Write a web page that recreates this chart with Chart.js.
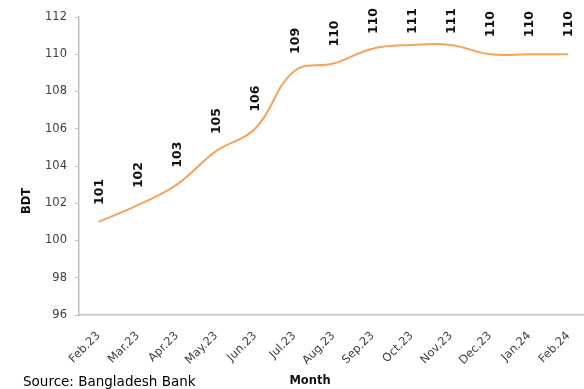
<!DOCTYPE html>
<html>
<head>
<meta charset="utf-8">
<script src="https://cdn.jsdelivr.net/npm/chart.js@4.4.1/dist/chart.umd.min.js"></script>
<style>
  html, body { margin: 0; padding: 0; background: #ffffff; overflow: hidden; }
  #wrap { position: relative; width: 584px; height: 389px; overflow: hidden; }
</style>
</head>
<body>
<div id="wrap"><canvas id="c" width="592" height="389"></canvas></div>
<script>
const months = ["Feb.23","Mar.23","Apr.23","May.23","Jun.23","Jul.23","Aug.23","Sep.23","Oct.23","Nov.23","Dec.23","Jan.24","Feb.24"];
const rateValues = [101.0, 101.9, 103.0, 104.8, 106.0, 109.1, 109.5, 110.3, 110.5, 110.5, 110.0, 110.0, 110.0];
const rateLabels = ["101","102","103","105","106","109","110","110","111","111","110","110","110"];
const yTicks = [96, 98, 100, 102, 104, 106, 108, 110, 112];

const FONT = "'DejaVu Sans', Verdana, sans-serif";

const extraText = {
  id: 'extraText',
  afterDatasetsDraw(chart) {
    const ctx = chart.ctx;
    const meta = chart.getDatasetMeta(0);
    const topLimit = chart.chartArea.top - 9;
    ctx.save();
    ctx.fillStyle = '#111111';
    ctx.font = 'bold 12.5px ' + FONT;
    meta.data.forEach((pt, i) => {
      const w = ctx.measureText(rateLabels[i]).width;
      const start = Math.max(pt.y - 17, topLimit + w);
      ctx.save();
      ctx.translate(pt.x + 1, start);
      ctx.rotate(-Math.PI / 2);
      ctx.textAlign = 'left';
      ctx.textBaseline = 'middle';
      ctx.fillText(rateLabels[i], 0, 0);
      ctx.restore();
    });
    ctx.font = 'bold 11.5px ' + FONT;
    ctx.textAlign = 'center';
    ctx.textBaseline = 'middle';
    ctx.fillText('Month', 310, 381);
    ctx.save();
    ctx.translate(27, 201);
    ctx.rotate(-Math.PI / 2);
    ctx.fillText('BDT', 0, 0);
    ctx.restore();
    ctx.font = '13.5px ' + FONT;
    ctx.textAlign = 'left';
    ctx.fillStyle = '#000000';
    ctx.fillText('Source: Bangladesh Bank', 23, 382);
    ctx.restore();
  }
};

new Chart(document.getElementById('c'), {
  type: 'line',
  data: {
    labels: months,
    datasets: [{
      data: rateValues,
      borderColor: '#F7A25A',
      borderWidth: 2,
      pointRadius: 0,
      tension: 0.4,
      fill: false
    }]
  },
  options: {
    responsive: false,
    animation: false,
    devicePixelRatio: 1,
    layout: { padding: { top: 17, right: 0, bottom: 0, left: 0 } },
    plugins: { legend: { display: false }, tooltip: { enabled: false } },
    scales: {
      x: {
        type: 'category',
        offset: true,
        grid: { display: false, drawTicks: false },
        border: { display: true, color: '#BFBFBF', width: 1.5 },
        ticks: {
          autoSkip: false,
          minRotation: 45,
          maxRotation: 45,
          padding: 14,
          color: '#404040',
          font: { family: FONT, size: 11.5 }
        },
        afterFit: s => { s.height = 74; }
      },
      y: {
        min: 96,
        max: 112,
        afterBuildTicks: s => { s.ticks = yTicks.map(v => ({ value: v })); },
        grid: { display: true, drawOnChartArea: false, drawTicks: true, tickLength: 4, color: '#BFBFBF' },
        border: { display: true, color: '#BFBFBF', width: 1.5 },
        ticks: {
          padding: 8,
          color: '#404040',
          font: { family: FONT, size: 11.5 }
        },
        afterFit: s => { s.width = 79; }
      }
    }
  },
  plugins: [extraText]
});
</script>
</body>
</html>
